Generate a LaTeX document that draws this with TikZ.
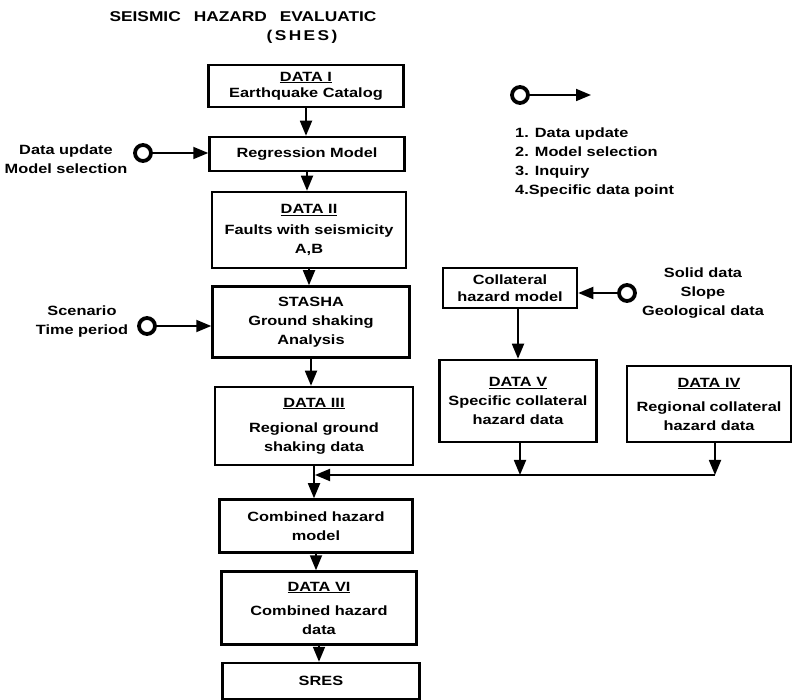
\documentclass[tikz,border=0pt]{standalone}
\usepackage{fontspec}
\setmainfont{Liberation Sans}[FakeStretch=1.22]
\usetikzlibrary{arrows.meta}
\begin{document}
\begin{tikzpicture}[x=1pt,y=-1pt,
  every node/.style={font=\fontsize{13.4}{19}\selectfont\bfseries},
  box/.style={draw, line width=2.5pt, align=center, inner sep=0pt},
  conn/.style={line width=1.8pt, -{Triangle[length=15pt,width=12pt]}},
  ring/.style={circle, draw, line width=3.8pt, minimum size=16pt, inner sep=0pt},
  lbl/.style={align=center, inner sep=0pt}]
\useasboundingbox (0,0) rectangle (793,700);

% title
\node[inner sep=0pt, font=\fontsize{14.2}{16}\selectfont\bfseries] (t1) at (243,17)
  {SEISMIC\hspace{13pt}HAZARD\hspace{13pt}EVALUATIC};
\node[inner sep=0pt, font=\fontsize{14.2}{16}\selectfont\bfseries\addfontfeature{LetterSpace=17}] (t2) at (302,37) {(SHES)};

% main column
\node[box, minimum width=195pt, minimum height=42pt] (d1) at (306,86)
  {\underline{DATA I}\\[-3pt]Earthquake Catalog};
\node[box, minimum width=195pt, minimum height=34pt] (reg) at (307,154) {Regression Model};
\node[box, minimum width=194pt, minimum height=76pt] (d2) at (309,230)
  {\underline{DATA II}\\[2pt]Faults with seismicity\\A,B};
\node[box, minimum width=197pt, minimum height=71pt] (sta) at (311,322)
  {STASHA\\Ground shaking\\Analysis};
\node[box, minimum width=198pt, minimum height=78pt] (d3) at (314,426)
  {\underline{DATA III}\\[6pt]Regional ground\\shaking data};
\node[box, minimum width=193pt, minimum height=53pt] (chm) at (316,526)
  {Combined hazard\\model};
\node[box, minimum width=195pt, minimum height=73pt] (d6) at (319,608)
  {\underline{DATA VI}\\[5pt]Combined hazard\\data};
\node[box, minimum width=197pt, minimum height=36pt] (sres) at (321,681) {SRES};

% right column
\node[box, minimum width=134pt, minimum height=40pt] (col) at (510,288)
  {Collateral\\[-2pt]hazard model};
\node[box, minimum width=157pt, minimum height=82pt] (d5) at (518,401)
  {\underline{DATA V}\\Specific collateral\\hazard data};
\node[box, minimum width=164pt, minimum height=76pt] (d4) at (709,404)
  {\underline{DATA IV}\\[5pt]Regional\hspace{4pt}collateral\\hazard data};

% input circles and labels
\node[ring] (c1) at (143,153) {};
\node[lbl] (l1) at (66,159) {Data update\\Model selection};
\node[ring] (c2) at (147,326) {};
\node[lbl] (l2) at (82,322) {Scenario\\Time period};
\node[ring] (c3) at (627,293) {};
\node[lbl] (l3) at (703,293) {Solid data\\Slope\\Geological data};

% legend
\node[ring] (c4) at (520,95) {};
\coordinate (lg) at (591,95);
\node[lbl, align=left, anchor=west] (leg) at (515,163)
  {1. Data update\\2. Model selection\\3. Inquiry\\4.Specific data point};

% connectors
\draw[conn] (d1.south) -- (d1.south |- reg.north);
\draw[conn] (reg.south) -- (reg.south |- d2.north);
\draw[conn] (d2.south) -- (d2.south |- sta.north);
\draw[conn] (sta.south) -- (sta.south |- d3.north);
\draw[conn] (d3.south) -- (d3.south |- chm.north);
\draw[conn] (chm.south) -- (chm.south |- d6.north);
\draw[conn] (d6.south) -- (d6.south |- sres.north);

\draw[conn] (c1) -- (c1 -| reg.west);
\draw[conn] (c2) -- (c2 -| sta.west);
\draw[conn] (c3) -- (c3 -| col.east);
\draw[conn] (c4) -- (lg);
\draw[conn] (col.south -| d5) -- (d5.north);

\coordinate (j4) at (715,475);
\coordinate (j5) at (520,475);
\coordinate (jm) at (315,475);
\draw[conn] (d4.south -| j4) -- (j4);
\draw[conn] (d5.south -| j5) -- (j5);
\draw[conn] (j4) -- (jm);
\end{tikzpicture}
\end{document}
